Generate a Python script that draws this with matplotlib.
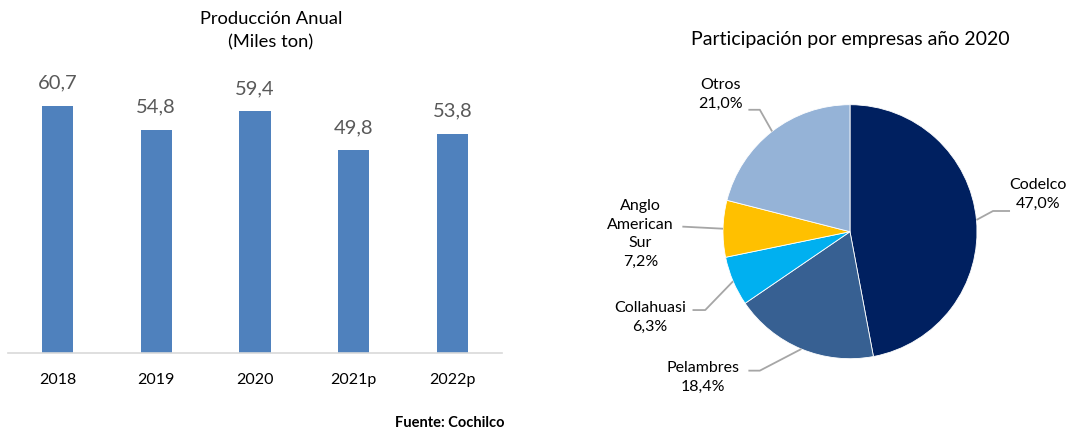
import numpy as np
import matplotlib
matplotlib.use('Agg')
import matplotlib.pyplot as plt

plt.rcParams['font.family'] = ['Lato', 'DejaVu Sans']

# bar chart data
years = ['2018', '2019', '2020', '2021p', '2022p']
produccion = [60.7, 54.8, 59.4, 49.8, 53.8]

# pie chart data
empresas = ['Codelco', 'Pelambres', 'Collahuasi', 'Anglo\nAmerican\nSur', 'Otros']
participacion = [47.0, 18.4, 6.3, 7.2, 21.0]
pie_colors = ['#002060', '#376092', '#00B0F0', '#FFC000', '#95B3D7']

W, H = 1069, 435
fig = plt.figure(figsize=(W/100, H/100), dpi=100)

def px_axes(x0, y0, x1, y1):
    # pixel box (top-left origin) -> figure fraction axes
    return fig.add_axes([x0/W, 1 - y1/H, (x1-x0)/W, (y1-y0)/H])

def fmt(v, pct=False):
    s = ('%.1f' % v).replace('.', ',')
    return s + '%' if pct else s

# ---- bar chart ----
ax = px_axes(8, 69, 502, 354)
x = np.arange(len(years))
bars = ax.bar(x, produccion, width=0.315, color='#4F81BD')
ax.bar_label(bars, labels=[fmt(v) for v in produccion], padding=11,
             fontsize=14.5, color='#595959')
ax.set_xlim(-0.5, len(years)-0.5)
ax.set_ylim(0, 70)
ax.set_xticks(x)
ax.set_xticklabels(years, fontsize=11.5, color='#000000')
ax.tick_params(axis='x', length=0, pad=14)
ax.set_yticks([])
for s in ['top', 'right', 'left']:
    ax.spines[s].set_visible(False)
ax.spines['bottom'].set_color('#D9D9D9')
ax.spines['bottom'].set_linewidth(1.2)

fig.text(271/W, 1 - 30.5/H, 'Producción Anual\n(Miles ton)', ha='center',
         va='center', fontsize=13.2, linespacing=1.55, color='#000000')

# ---- pie chart ----
cx, cy, R = 850, 232.7, 127
pax = px_axes(580, 55, W, H)
wedges, _ = pax.pie(participacion, colors=pie_colors, startangle=90,
                    counterclock=False, radius=1,
                    wedgeprops=dict(edgecolor='white', linewidth=0.6))
pax.set_xlim((580-cx)/R, (W-cx)/R)
pax.set_ylim((cy-H)/R, (cy-55)/R)
pax.set_aspect('auto')

# label layout: (text x, text y, elbow x, elbow y, anchor x)
layout = {
    'Codelco':   (1.48, 0.30, 1.126, 0.163, 1.26),
    'Pelambres': (-1.157, -1.14, -0.71, -1.094, -0.80),
    'Collahuasi': (-1.575, -0.668, -1.14, -0.617, -1.24),
    'Anglo\nAmerican\nSur': (-1.65, -0.01, -1.32, 0.04, -1.32),
    'Otros':     (-1.02, 1.09, -0.71, 0.96, -0.80),
}
for w, name, val in zip(wedges, empresas, participacion):
    ang = np.radians((w.theta1 + w.theta2) / 2)
    ex, ey = np.cos(ang), np.sin(ang)
    tx, ty, bx, by, ax_ = layout[name]
    pax.plot([ex, bx, ax_], [ey, by, by], color='#A6A6A6', lw=1.3,
             solid_capstyle='butt')
    pax.text(tx, ty, name + '\n' + fmt(val, pct=True), ha='center',
             va='center', fontsize=11.5, color='#000000', linespacing=1.4)

fig.text(850/W, 1 - 40/H, 'Participación por empresas año 2020', ha='center',
         va='center', fontsize=14, color='#000000')

fig.text(450/W, 1 - 423/H, 'Fuente: Cochilco', ha='center', va='center',
         fontsize=10.5, fontweight='bold', color='#000000')

fig.savefig('out.png', dpi=100)
